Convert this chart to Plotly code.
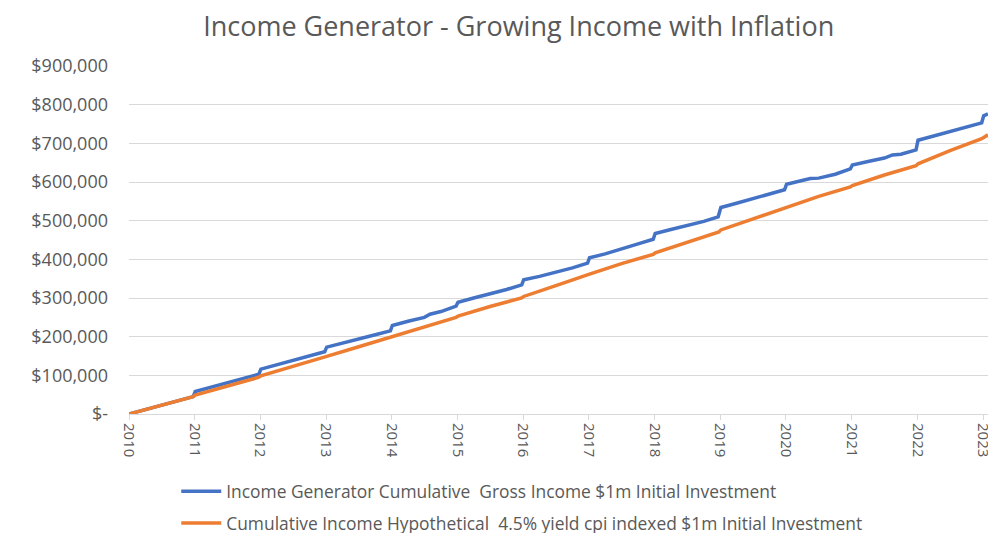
import plotly.graph_objects as go

# Blue: Income Generator cumulative gross income (USD)
blue_dates = [
    "2010-01-01", "2010-04-01", "2010-07-01", "2010-10-01", "2010-12-24",
    "2011-01-04", "2011-04-01", "2011-07-01", "2011-10-01", "2011-12-24",
    "2012-01-04", "2012-04-01", "2012-07-01", "2012-10-01", "2012-12-24",
    "2013-01-04", "2013-04-01", "2013-07-01", "2013-10-01", "2013-12-24",
    "2014-01-04", "2014-04-01", "2014-07-01", "2014-08-01", "2014-10-01", "2014-12-24",
    "2015-01-04", "2015-04-01", "2015-07-01", "2015-10-01", "2015-12-24",
    "2016-01-04", "2016-04-01", "2016-07-01", "2016-10-01", "2016-12-24",
    "2017-01-04", "2017-04-01", "2017-07-01", "2017-10-01", "2017-12-24",
    "2018-01-04", "2018-04-01", "2018-07-01", "2018-10-01", "2018-12-20",
    "2019-01-04", "2019-04-01", "2019-07-01", "2019-10-01", "2019-12-24",
    "2020-01-04", "2020-04-01", "2020-05-15", "2020-07-01", "2020-10-01", "2020-12-24",
    "2021-01-04", "2021-04-01", "2021-07-01", "2021-08-15", "2021-10-01", "2021-12-24",
    "2022-01-04", "2022-04-01", "2022-07-01", "2022-10-01", "2022-12-24",
    "2023-01-04", "2023-01-28",
]
blue_values = [
    0, 11000, 22000, 34000, 45000,
    58000, 69000, 80000, 91000, 103000,
    116000, 127000, 139000, 150000, 161000,
    173000, 184000, 195000, 205000, 215000,
    229000, 240000, 250000, 258000, 265000, 279000,
    289000, 300000, 310000, 322000, 334000,
    347000, 356000, 366000, 378000, 390000,
    404000, 414000, 428000, 440000, 452000,
    467000, 477000, 487000, 498000, 510000,
    534000, 545000, 557000, 568000, 580000,
    594000, 603000, 609000, 610000, 620000, 634000,
    644000, 653000, 662000, 670000, 672000, 683000,
    708000, 719000, 730000, 741000, 753000,
    771000, 776000,
]

# Orange: hypothetical 4.5% yield CPI-indexed cumulative income (USD)
orange_dates = [
    "2010-01-01", "2010-07-01", "2010-12-24",
    "2011-01-04", "2011-07-01", "2011-12-24",
    "2012-01-04", "2012-07-01", "2012-12-24",
    "2013-01-04", "2013-07-01", "2013-12-24",
    "2014-01-04", "2014-07-01", "2014-12-24",
    "2015-01-04", "2015-07-01", "2015-12-24",
    "2016-01-04", "2016-07-01", "2016-12-24",
    "2017-01-04", "2017-07-01", "2017-12-24",
    "2018-01-04", "2018-07-01", "2018-12-24",
    "2019-01-04", "2019-07-01", "2019-12-24",
    "2020-01-04", "2020-07-01", "2020-12-24",
    "2021-01-04", "2021-07-01", "2021-12-24",
    "2022-01-04", "2022-07-01", "2022-12-24",
    "2023-01-04", "2023-01-28",
]
orange_values = [
    0, 23000, 45000,
    49000, 72000, 95000,
    99000, 123000, 146000,
    149000, 174000, 198000,
    201000, 226000, 250000,
    253000, 278000, 300000,
    304000, 332000, 358000,
    362000, 389000, 413000,
    417000, 445000, 471000,
    476000, 505000, 532000,
    536000, 563000, 587000,
    591000, 618000, 642000,
    647000, 681000, 712000,
    716000, 722000,
]

year_ticks = [f"{y}-01-01" for y in range(2010, 2024)]
year_labels = [str(y) for y in range(2010, 2024)]
y_ticks = [0, 100000, 200000, 300000, 400000, 500000, 600000, 700000, 800000, 900000]
y_labels = ["$-", "$100,000", "$200,000", "$300,000", "$400,000", "$500,000",
            "$600,000", "$700,000", "$800,000", "$900,000"]

series_names = [
    "Income Generator Cumulative  Gross Income $1m Initial Investment",
    "Cumulative Income Hypothetical  4.5% yield cpi indexed $1m Initial Investment",
]

FONT = "Open Sans, Liberation Sans, sans-serif"
GREY = "#595959"

fig = go.Figure()
fig.add_trace(go.Scatter(x=blue_dates, y=blue_values, mode="lines", name=series_names[0],
                         line=dict(color="#4472C4", width=3.5), legendgroup="a"))
fig.add_trace(go.Scatter(x=orange_dates, y=orange_values, mode="lines", name=series_names[1],
                         line=dict(color="#ED7D31", width=3.5), legendgroup="b"))

fig.update_layout(
    width=988, height=533,
    margin=dict(l=129, r=0, t=66, b=119, autoexpand=False),
    paper_bgcolor="white", plot_bgcolor="white",
    font=dict(family=FONT, color=GREY, size=14),
    title=dict(text="Income Generator - Growing Income with Inflation",
               x=0.525, xanchor="center", y=0.95, yanchor="middle",
               font=dict(size=27, color=GREY, family=FONT)),
    legend=dict(orientation="v", x=0.055, xanchor="left", y=-0.171, yanchor="top",
                font=dict(size=17.4, color=GREY, family=FONT),
                tracegroupgap=6, itemwidth=40, bgcolor="rgba(0,0,0,0)"),
    showlegend=True,
)
fig.update_xaxes(
    type="date", range=["2010-01-01", "2023-01-28"],
    tickvals=year_ticks, ticktext=year_labels, tickangle=90,
    showgrid=False, showline=True, linecolor="#d9d9d9", linewidth=1,
    ticks="outside", tickcolor="#d9d9d9", ticklen=5,
    tickfont=dict(size=15, color=GREY), automargin=False, zeroline=False,
    ticklabeloverflow="allow",
)
fig.update_yaxes(
    range=[0, 900000], tickvals=y_ticks, ticktext=y_labels,
    showgrid=True, gridcolor="#d9d9d9", gridwidth=1,
    showline=False, zeroline=False, ticks="", ticklabelstandoff=20,
    tickfont=dict(size=18, color=GREY), automargin=False,
)

fig.write_html(
    "out.html",
    config={"displayModeBar": False},
    post_script="document.body.style.margin='0';document.body.style.overflow='hidden';",
)
